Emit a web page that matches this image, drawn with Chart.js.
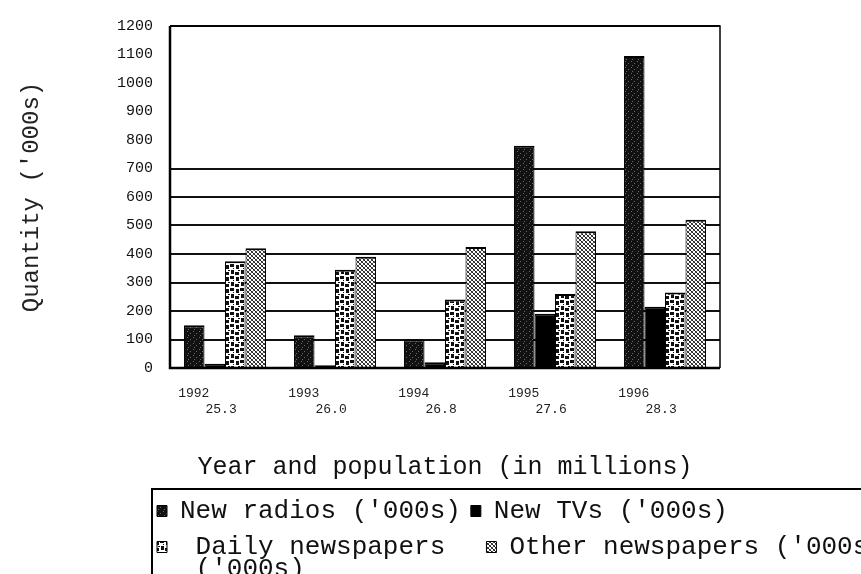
<!DOCTYPE html>
<html><head><meta charset="utf-8">
<script src="https://cdn.jsdelivr.net/npm/chart.js@4/dist/chart.umd.min.js"></script>
<style>html,body{margin:0;padding:0;background:#fff;}canvas{display:block;}</style>
</head><body>
<canvas id="c" width="861" height="574"></canvas>
<script>
// ---- data ----
const years = ['1992', '1993', '1994', '1995', '1996'];
const population = ['25.3', '26.0', '26.8', '27.6', '28.3'];
const newRadios = [150, 115, 100, 780, 1095];
const newTVs = [15, 10, 20, 190, 215];
const dailyNewspapers = [375, 345, 240, 260, 265];
const otherNewspapers = [420, 390, 425, 480, 520];
const seriesNames = ["New radios ('000s)", "New TVs ('000s)", "Daily newspapers ('000s)", "Other newspapers ('000s)"];
const legendTexts = ["New radios ('000s)", "New TVs ('000s)", " Daily newspapers  ", "Other newspapers ('000s)"];
const legendWrapText = " ('000s)";   // second line of the wrapped "Daily newspapers" entry
const yTickValues = [0, 100, 200, 300, 400, 500, 600, 700, 800, 900, 1000, 1100, 1200];
const xTitle = 'Year and population (in millions)';
const yTitle = "Quantity ('000s)";

// ---- fill patterns ----
function makePattern(w, h, draw) {
  const c = document.createElement('canvas');
  c.width = w; c.height = h;
  const x = c.getContext('2d');
  draw(x);
  return x.createPattern(c, 'repeat');
}
const radioPat = makePattern(6, 6, x => {
  x.fillStyle = '#111'; x.fillRect(0, 0, 6, 6);
  x.fillStyle = '#666'; x.fillRect(1, 1, 1, 1); x.fillRect(4, 3, 1, 1); x.fillRect(2, 5, 1, 1);
});
const tvPat = '#000';
const dailyPat = makePattern(10, 12, x => {
  x.fillStyle = '#fff'; x.fillRect(0, 0, 10, 12);
  x.fillStyle = '#111';
  x.fillRect(0, 0, 4, 3); x.fillRect(6, 1, 3, 4); x.fillRect(1, 6, 3, 4);
  x.fillRect(5, 8, 4, 3); x.fillRect(8, 6, 2, 1); x.fillRect(3, 4, 1, 1);
});
const otherPat = makePattern(4, 4, x => {
  x.fillStyle = '#fff'; x.fillRect(0, 0, 4, 4);
  x.fillStyle = '#222';
  for (let i = 0; i < 4; i++) { x.fillRect(i, i, 1, 1); }
  x.fillStyle = '#555';
  for (let i = 0; i < 4; i++) { x.fillRect(3 - i, i, 1, 1); }
});
const fills = [radioPat, tvPat, dailyPat, otherPat];
const seriesData = [newRadios, newTVs, dailyNewspapers, otherNewspapers];

const LEGEND_FONT = 26;

function placeLegend(chart) {
  const lg = chart.legend;
  if (lg) { lg.left = 147; lg.right = 980; lg.bottom = 600; }
}

const framePlugin = {
  id: 'frame',
  afterLayout: placeLegend,
  beforeDraw: placeLegend,
  afterDatasetsDraw(chart) {
    const { ctx, chartArea: a } = chart;
    ctx.save();
    ctx.strokeStyle = '#000';
    ctx.lineWidth = 1.5;
    ctx.beginPath(); ctx.moveTo(a.left, a.top); ctx.lineTo(a.right, a.top); ctx.lineTo(a.right, a.bottom); ctx.stroke();
    ctx.lineWidth = 2.5;
    ctx.beginPath(); ctx.moveTo(a.left, a.top); ctx.lineTo(a.left, a.bottom); ctx.lineTo(a.right, a.bottom); ctx.stroke();
    ctx.restore();
  },
  afterDraw(chart) {
    const lg = chart.legend;
    const { ctx } = chart;
    ctx.save();
    ctx.strokeStyle = '#000';
    ctx.lineWidth = 2;
    ctx.strokeRect(152, lg.top + 1, 760, 200);
    // wrapped second line of the "Daily newspapers" legend entry
    const hb = lg.legendHitBoxes && lg.legendHitBoxes[2];
    const x0 = hb ? hb.left : 157;
    const yMid = hb ? hb.top + hb.height / 2 : lg.top + 59;
    ctx.fillStyle = '#111';
    ctx.font = LEGEND_FONT + 'px "Liberation Mono"';
    ctx.textAlign = 'left';
    ctx.textBaseline = 'middle';
    ctx.fillText(legendWrapText, x0 + 10 + LEGEND_FONT / 2, yMid + 22);
    ctx.restore();
  }
};

new Chart(document.getElementById('c'), {
  type: 'bar',
  data: {
    labels: years,
    datasets: seriesData.map((d, i) => ({
      label: seriesNames[i],
      data: d,
      yAxisID: 'y',
      backgroundColor: fills[i],
      borderColor: '#000',
      borderWidth: { top: 2, left: 1, right: 1, bottom: 0 },
      categoryPercentage: 0.745,
      barPercentage: 1.0
    }))
  },
  options: {
    responsive: false,
    animation: false,
    layout: { padding: { top: 26, left: 0, right: 0, bottom: 4 } },
    plugins: {
      tooltip: { enabled: false },
      legend: {
        position: 'bottom',
        align: 'start',
        maxHeight: 86,
        labels: {
          boxWidth: 10,
          boxHeight: 11,
          padding: 10,
          color: '#111',
          font: { family: 'Liberation Mono', size: LEGEND_FONT },
          generateLabels(chart) {
            const items = Chart.defaults.plugins.legend.labels.generateLabels(chart);
            items.forEach((it, i) => { it.text = legendTexts[i]; it.lineWidth = 1; it.strokeStyle = '#000'; });
            return items;
          }
        }
      }
    },
    scales: {
      x: {
        type: 'category',
        grid: { display: false },
        border: { display: false },
        afterFit(s) { s.height = 120; },
        ticks: {
          autoSkip: false, maxRotation: 0, padding: 10,
          color: '#222',
          font: { family: 'Liberation Mono', size: 13 },
          callback: (v, i) => [years[i] + '        ', population[i] + ' ']
        },
        title: {
          display: true, text: xTitle, color: '#111',
          font: { family: 'Liberation Mono', size: 25 },
          padding: { top: 0, bottom: 6 }
        }
      },
      y: {
        position: 'left',
        min: 0, max: 1200,
        afterFit(s) { s.width = 170; },
        afterBuildTicks(s) { s.ticks = yTickValues.map(v => ({ value: v })); },
        grid: {
          drawTicks: false,
          lineWidth: 2,
          color: c => {
            const v = c.tick ? c.tick.value : 0;
            return (v <= 700 || v === 1200) ? '#111' : 'rgba(0,0,0,0)';
          }
        },
        border: { display: false },
        ticks: {
          padding: 17, color: '#111',
          font: { family: 'Liberation Mono', size: 15 },
          callback: v => String(v)
        },
        title: {
          display: true, text: yTitle, color: '#222',
          font: { family: 'Liberation Mono', size: 24 },
          padding: { top: 17, bottom: 0 }
        }
      },
      y2: {
        position: 'right',
        display: true,
        afterFit(s) { s.width = 141; },
        grid: { display: false },
        border: { display: false },
        ticks: { display: false }
      }
    }
  },
  plugins: [framePlugin]
});
</script>
</body></html>
